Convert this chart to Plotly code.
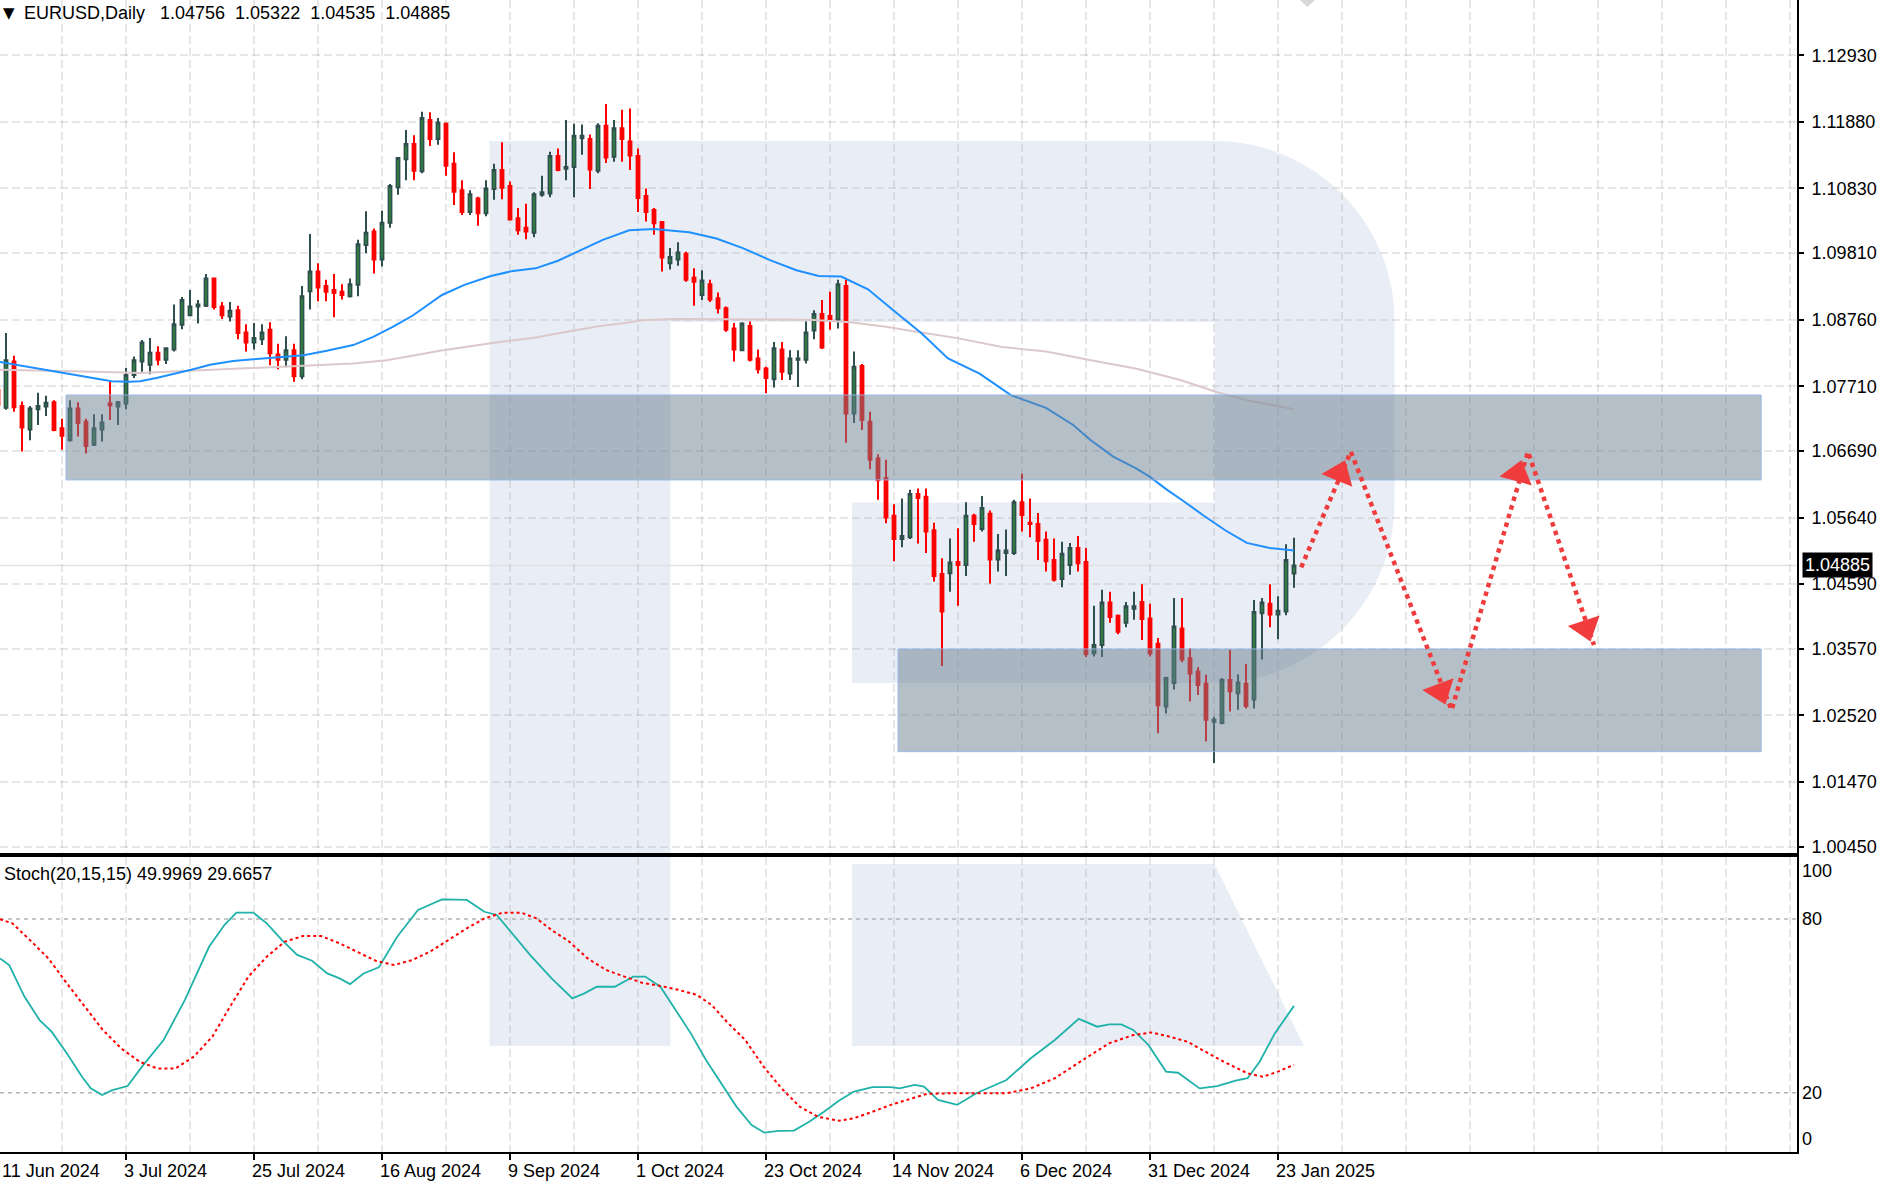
import plotly.graph_objects as go

# ---------------- data ----------------
symbol = "EURUSD"
timeframe = "Daily"

opens = [1.0765, 1.0737, 1.0810, 1.0740, 1.0703, 1.0735, 1.0739, 1.0746, 1.0705, 1.0686,
         1.0736, 1.0715, 1.0679, 1.0703, 1.0744, 1.0739, 1.0744, 1.0789, 1.0810, 1.0805,
         1.0824, 1.0813, 1.0829, 1.0868, 1.0883, 1.0897, 1.0898, 1.0941, 1.0897, 1.0881,
         1.0891, 1.0856, 1.0840, 1.0845, 1.0860, 1.0821, 1.0813, 1.0828, 1.0787, 1.0921,
         1.0952, 1.0929, 1.0923, 1.0920, 1.0913, 1.0931, 1.0994, 1.1015, 1.0971, 1.1029,
         1.1085, 1.1129, 1.1153, 1.1110, 1.1191, 1.1161, 1.1185, 1.1122, 1.1080, 1.1046,
         1.1067, 1.1044, 1.1082, 1.1112, 1.1087, 1.1036, 1.1021, 1.1013, 1.1073, 1.1075,
         1.1134, 1.1114, 1.1117, 1.1162, 1.1161, 1.1111, 1.1182, 1.1133, 1.1178, 1.1157,
         1.1134, 1.1071, 1.1049, 1.1030, 1.0965, 1.0971, 1.0980, 1.0942, 1.0915, 1.0932,
         1.0910, 1.0894, 1.0862, 1.0828, 1.0866, 1.0815, 1.0799, 1.0782, 1.0829, 1.0791,
         1.0813, 1.0813, 1.0859, 1.0885, 1.0882, 1.0876, 1.0929, 1.0728, 1.0803, 1.0715,
         1.0657, 1.0626, 1.0567, 1.0530, 1.0533, 1.0601, 1.0597, 1.0544, 1.0475, 1.0476,
         1.0494, 1.0489, 1.0567, 1.0546, 1.0570, 1.0498, 1.0508, 1.0508, 1.0588, 1.0556,
         1.0554, 1.0529, 1.0497, 1.0467, 1.0489, 1.0516, 1.0494, 1.0350, 1.0363, 1.0430,
         1.0409, 1.0398, 1.0420, 1.0431, 1.0405, 1.0365, 1.0266, 1.0303, 1.0389, 1.0342,
         1.0321, 1.0302, 1.0242, 1.0240, 1.0308, 1.0287, 1.0302, 1.0277, 1.0413, 1.0428,
         1.0411, 1.0416, 1.04756]
highs = [1.0767, 1.0855, 1.0819, 1.0747, 1.0740, 1.0761, 1.0756, 1.0749, 1.0720, 1.0749,
         1.0746, 1.0720, 1.0727, 1.0727, 1.0778, 1.0748, 1.0800, 1.0818, 1.0844, 1.0847,
         1.0834, 1.0831, 1.0900, 1.0912, 1.0923, 1.0907, 1.0948, 1.0941, 1.0904, 1.0904,
         1.0898, 1.0869, 1.0871, 1.0869, 1.0872, 1.0838, 1.0850, 1.0838, 1.0929, 1.1011,
         1.0965, 1.0939, 1.0948, 1.0932, 1.0941, 1.1002, 1.1047, 1.1020, 1.1048, 1.1090,
         1.1132, 1.1175, 1.1167, 1.1204, 1.1203, 1.1194, 1.1187, 1.1140, 1.1096, 1.1080,
         1.1070, 1.1096, 1.1122, 1.1156, 1.1094, 1.1052, 1.1059, 1.1077, 1.1103, 1.1141,
         1.1146, 1.1191, 1.1185, 1.1184, 1.1168, 1.1186, 1.1216, 1.1191, 1.1207, 1.1209,
         1.1146, 1.1083, 1.1052, 1.1031, 1.0989, 1.0998, 1.0983, 1.0957, 1.0954, 1.0939,
         1.0919, 1.0897, 1.0871, 1.0872, 1.0873, 1.0829, 1.0802, 1.0841, 1.0841, 1.0828,
         1.0828, 1.0873, 1.0891, 1.0907, 1.0920, 1.0939, 1.0939, 1.0826, 1.0806, 1.0731,
         1.0664, 1.0655, 1.0585, 1.0594, 1.0608, 1.0610, 1.0610, 1.0556, 1.0500, 1.0531,
         1.0547, 1.0588, 1.0570, 1.0598, 1.0575, 1.0538, 1.0545, 1.0592, 1.0633, 1.0594,
         1.0571, 1.0542, 1.0531, 1.0526, 1.0524, 1.0535, 1.0516, 1.0425, 1.0450, 1.0447,
         1.0411, 1.0431, 1.0447, 1.0459, 1.0428, 1.0374, 1.0313, 1.0437, 1.0437, 1.0358,
         1.0328, 1.0316, 1.0250, 1.0311, 1.0355, 1.0317, 1.0333, 1.0434, 1.0437, 1.0459,
         1.0440, 1.0522, 1.05322]
lows = [1.0719, 1.0734, 1.0731, 1.0668, 1.0686, 1.0710, 1.0724, 1.0700, 1.0671, 1.0684,
        1.0692, 1.0665, 1.0677, 1.0684, 1.0718, 1.0710, 1.0735, 1.0784, 1.0794, 1.0790,
        1.0804, 1.0806, 1.0826, 1.0861, 1.0883, 1.0870, 1.0896, 1.0892, 1.0877, 1.0873,
        1.0845, 1.0826, 1.0829, 1.0836, 1.0804, 1.0798, 1.0801, 1.0778, 1.0782, 1.0892,
        1.0905, 1.0905, 1.0880, 1.0908, 1.0911, 1.0913, 1.0981, 1.0949, 1.0960, 1.1021,
        1.1073, 1.1096, 1.1096, 1.1107, 1.1150, 1.1152, 1.1103, 1.1057, 1.1041, 1.1041,
        1.1024, 1.1039, 1.1065, 1.1066, 1.1033, 1.1010, 1.1003, 1.1006, 1.1070, 1.1069,
        1.1110, 1.1096, 1.1069, 1.1136, 1.1082, 1.1107, 1.1123, 1.1125, 1.1125, 1.1112,
        1.1046, 1.1031, 1.1010, 1.0952, 1.0955, 1.0961, 1.0936, 1.0898, 1.0907, 1.0904,
        1.0886, 1.0857, 1.0810, 1.0827, 1.0810, 1.0791, 1.0760, 1.0769, 1.0781, 1.0781,
        1.0770, 1.0807, 1.0845, 1.0830, 1.0860, 1.0862, 1.0682, 1.0713, 1.0702, 1.0640,
        1.0592, 1.0555, 1.0495, 1.0517, 1.0530, 1.0523, 1.0508, 1.0463, 1.0330, 1.0447,
        1.0425, 1.0472, 1.0526, 1.0542, 1.0460, 1.0479, 1.0472, 1.0505, 1.0542, 1.0533,
        1.0497, 1.0479, 1.0463, 1.0454, 1.0474, 1.0479, 1.0344, 1.0345, 1.0344, 1.0398,
        1.0380, 1.0391, 1.0403, 1.0371, 1.0345, 1.0224, 1.0255, 1.0293, 1.0336, 1.0274,
        1.0284, 1.0211, 1.0177, 1.0238, 1.0258, 1.0261, 1.0263, 1.0263, 1.0340, 1.0391,
        1.0372, 1.0410, 1.04535]
closes = [1.0742, 1.0812, 1.0738, 1.0706, 1.0736, 1.0740, 1.0745, 1.0702, 1.0693, 1.0736,
          1.0713, 1.0677, 1.0705, 1.0714, 1.0741, 1.0746, 1.0789, 1.0812, 1.0840, 1.0824,
          1.0813, 1.0831, 1.0869, 1.0907, 1.0897, 1.0900, 1.0941, 1.0896, 1.0883, 1.0890,
          1.0855, 1.0840, 1.0847, 1.0856, 1.0823, 1.0813, 1.0828, 1.0787, 1.0913, 1.0952,
          1.0927, 1.0920, 1.0918, 1.0915, 1.0932, 1.0995, 1.1013, 1.0971, 1.1029, 1.1087,
          1.1131, 1.1153, 1.1111, 1.1194, 1.1161, 1.1187, 1.1119, 1.1078, 1.1046, 1.1074,
          1.1044, 1.1083, 1.1112, 1.1084, 1.1034, 1.1017, 1.1015, 1.1074, 1.1077, 1.1134,
          1.1112, 1.1117, 1.1166, 1.1166, 1.1113, 1.1182, 1.1132, 1.1178, 1.1161, 1.1135,
          1.1068, 1.1046, 1.1028, 1.0974, 1.0975, 1.0982, 1.0939, 1.0936, 1.0938, 1.0908,
          1.0894, 1.0860, 1.0829, 1.0870, 1.0813, 1.0798, 1.0784, 1.0831, 1.0794, 1.0815,
          1.0815, 1.0856, 1.0885, 1.0832, 1.0877, 1.0932, 1.0728, 1.0802, 1.0718, 1.0655,
          1.0623, 1.0564, 1.0530, 1.0535, 1.0601, 1.0595, 1.0542, 1.0472, 1.0416, 1.0493,
          1.0489, 1.0567, 1.0554, 1.0579, 1.0498, 1.0512, 1.0512, 1.0588, 1.0568, 1.0554,
          1.0527, 1.0495, 1.0466, 1.0507, 1.0516, 1.0492, 1.0349, 1.0363, 1.0430, 1.0407,
          1.0384, 1.0424, 1.0424, 1.0404, 1.0350, 1.0268, 1.0311, 1.0392, 1.0340, 1.0318,
          1.0300, 1.0245, 1.0245, 1.0308, 1.0290, 1.0304, 1.0267, 1.0415, 1.0430, 1.0411,
          1.0417, 1.0497, 1.04885]

# moving averages (bar index, price)
ma_fast_idx = [0, 3.6, 5.8, 8.6, 11.4, 14.2, 16.4, 17.75, 19.8, 21.5, 24.4, 26.5, 29.4, 32.3,
               35.25, 38.2, 41.1, 44.4, 46.9, 49.4, 51.9, 54.0, 55.5, 58.3, 61.6, 64.4, 67.2,
               70.0, 72.8, 75.6, 78.9, 82.0, 86.4, 89.8, 93.1, 96.5, 99.8, 102.6, 105.4,
               108.75, 112.1, 115.4, 118.75, 122.7, 126.6, 131.0, 134.4, 136.6, 139.4, 142.2,
               143.9, 146.1, 148.3, 150.6, 153.4, 156.1, 158.95, 162]
ma_fast = [1.0810, 1.0802, 1.0797, 1.0791, 1.0785, 1.0779, 1.0778, 1.0779, 1.0784, 1.0789,
           1.0798, 1.0805, 1.0811, 1.0814, 1.0817, 1.0820, 1.0827, 1.0836, 1.0849, 1.0865,
           1.0883, 1.0902, 1.0915, 1.0931, 1.0945, 1.0953, 1.0957, 1.0969, 1.0986, 1.1002,
           1.1017, 1.1019, 1.1014, 1.1004, 1.0989, 1.0970, 1.0954, 1.0945, 1.0944, 1.0924,
           1.0889, 1.0855, 1.0815, 1.0791, 1.0757, 1.0737, 1.0710, 1.0686, 1.0660, 1.0642,
           1.0629, 1.0608, 1.0589, 1.0568, 1.0544, 1.0524, 1.0516, 1.0512]
ma_slow_idx = [0, 6, 12, 17.75, 27.3, 36, 40.25, 44.4, 48.6, 55.25, 61.6, 67.2, 70.25, 72.3,
               75.25, 78.4, 80.5, 84.4, 95.3, 101.5, 106.5, 111, 115.4, 119.9, 125.5, 131,
               136.6, 142.2, 147.8, 152.3, 156.1, 162]
ma_slow = [1.0797, 1.0796, 1.0794, 1.0792, 1.0797, 1.0802, 1.0804, 1.0807, 1.0812, 1.0827,
           1.0839, 1.0848, 1.0855, 1.0860, 1.0866, 1.0871, 1.0875, 1.0877, 1.0877, 1.0876,
           1.0872, 1.0865, 1.0856, 1.0847, 1.0833, 1.0826, 1.0812, 1.0799, 1.0781, 1.0762,
           1.0749, 1.0735]

# stochastic (bar index, value)
stoch_params = "20,15,15"
stoch_k_idx = [0.25, 1.4, 3.3, 5.2, 6.7, 8.6, 10.5, 11.6, 13.0, 14.3, 16.2, 18.0, 20.7, 23.35,
               26.4, 28.3, 29.8, 31.9, 33.6, 35.5, 37.4, 39.25, 41.15, 42.7, 44.0, 45.7, 47.6,
               49.9, 52.5, 55.5, 58.6, 60.8, 62.35, 64.25, 66.5, 69.2, 71.8, 73.3, 74.85, 77.1,
               79.4, 80.9, 82.8, 84.7, 86.6, 88.5, 90.4, 92.3, 94.2, 95.8, 97.6, 99.5, 101.4,
               103.25, 105.1, 107.0, 109.3, 111.6, 112.7, 114.6, 115.75, 117.5, 119.9, 122.3,
               126.05, 129.1, 132.1, 135.1, 137.4, 138.9, 140.4, 141.9, 143.8, 146.0, 147.5,
               150.2, 152.4, 154.7, 156.2, 157.7, 159.6, 162]
stoch_k = [66.4, 64.1, 53.2, 45.1, 41.1, 33.6, 25.5, 21.5, 19.2, 20.9, 22.3, 29.0, 38.2, 52.0,
           70.5, 77.9, 82.2, 82.2, 78.5, 72.7, 67.6, 65.6, 61.2, 59.5, 57.5, 61.2, 63.3, 73.9,
           83.1, 86.8, 86.6, 82.5, 81.4, 75.05, 67.6, 59.5, 52.6, 54.3, 56.6, 56.6, 60.1, 60.1,
           56.6, 48.6, 40.5, 31.3, 23.2, 15.2, 8.8, 6.2, 6.8, 6.9, 10.0, 13.4, 17.2, 20.4, 21.9,
           21.9, 21.5, 22.7, 22.1, 17.5, 15.8, 19.8, 24.4, 31.9, 38.2, 45.5, 42.8, 43.6, 43.6,
           41.7, 36.5, 27.3, 26.9, 21.5, 22.3, 24.2, 25.0, 30.7, 40.5, 49.9969]
stoch_d_idx = [0.25, 1.8, 4.0, 6.3, 8.6, 10.85, 13.1, 15.4, 17.7, 19.9, 22.2, 24.5, 26.8, 29.0,
               31.3, 33.6, 35.85, 38.1, 40.4, 42.7, 44.9, 47.2, 49.5, 51.75, 54.0, 56.3, 58.6,
               60.8, 63.1, 65.4, 67.3, 69.2, 71.4, 73.7, 76.0, 78.3, 80.5, 82.8, 85.1, 87.35,
               89.2, 91.1, 93.4, 95.7, 97.95, 100.2, 102.5, 105.1, 107.0, 109.3, 111.6, 113.85,
               116.1, 119.0, 122.0, 126.05, 129.1, 132.1, 135.1, 138.9, 141.9, 144.2, 146.4,
               148.7, 150.9, 153.2, 156.2, 158.1, 160.0, 162]
stoch_d = [79.9, 78.5, 72.7, 66.4, 57.8, 49.7, 41.7, 35.3, 30.7, 28.4, 28.4, 32.5, 39.4, 49.7,
           60.1, 67.0, 72.2, 74.1, 74.1, 71.6, 68.7, 65.6, 64.1, 65.8, 68.7, 72.7, 76.8, 80.2,
           82.2, 82.2, 80.2, 76.2, 72.2, 66.4, 62.4, 60.1, 58.0, 56.9, 55.5, 53.8, 50.3, 44.5,
           38.2, 29.0, 21.5, 15.2, 11.7, 10.3, 11.2, 13.4, 15.8, 17.7, 19.6, 19.8, 19.8, 19.8,
           21.5, 25.0, 30.4, 37.1, 39.9, 40.8, 39.4, 37.6, 34.2, 30.7, 26.7, 25.5, 27.3, 29.6657]
stoch_levels = [80, 20]
stoch_scale_labels = [100, 80, 20, 0]

# axes labels
price_ticks = [1.00450, 1.01470, 1.02520, 1.03570, 1.04590, 1.05640, 1.06690,
               1.07710, 1.08760, 1.09810, 1.10830, 1.11880, 1.12930]
date_tick_idx = [0, 16, 32, 48, 64, 80, 96, 112, 128, 144, 160]
date_labels = ['11 Jun 2024', '3 Jul 2024', '25 Jul 2024', '16 Aug 2024', '9 Sep 2024',
               '1 Oct 2024', '23 Oct 2024', '14 Nov 2024', '6 Dec 2024', '31 Dec 2024',
               '23 Jan 2025']

# analyst drawings: zones and forecast path
zone_idx0 = [8.5, 112.5]
zone_idx1 = [220.4, 220.4]
zone_lo = [1.06233, 1.01948]
zone_hi = [1.07573, 1.03568]
forecast_idx = [162.9, 169.1, 181.7, 191.25, 199.5]
forecast_price = [1.04856, 1.06679, 1.02606, 1.06679, 1.03631]
head_idx = [167.7, 180.3, 189.95, 198.5]
head_price = [1.06332, 1.02905, 1.06327, 1.03904]

# ---------------- layout geometry ----------------
W, H = 1886, 1187
ML, MR, MT, MB = 0, 89, 0, 35
PW, PH = W - ML - MR, H - MT - MB
BAR_PX = 8.0
x_range = [0.25, 0.25 + PW / BAR_PX]
main_dom = [(PH - 853) / PH, 1.0]
stoch_dom = [0.0, (PH - 857) / PH]
price_range = [1.00350, 1.13802]
stoch_range = [-0.48, 101.42]

FONT = "Liberation Sans, Arial, sans-serif"
GRID = "rgba(170,170,170,0.28)"
GRID_DASH = "8px,4px"
BULL_FILL = "#2dbb2d"
BULL_LINE = "#2f4f4f"
BEAR = "#ff0000"
WM = "#e9edf5"
ARROW = "#f03c3c"
ZONE_FILL = "rgba(105,128,143,0.5)"
ZONE_EDGE = "rgba(150,185,235,0.9)"

x = list(range(len(opens)))
grid_idx = list(range(0, int(x_range[1]) + 1, 8))
minor_idx = [g for g in grid_idx if g not in date_tick_idx]

fig = go.Figure()

fig.add_trace(go.Candlestick(
    x=x, open=opens, high=highs, low=lows, close=closes,
    increasing=dict(line=dict(color=BULL_LINE, width=2), fillcolor=BULL_FILL),
    decreasing=dict(line=dict(color=BEAR, width=2), fillcolor=BEAR),
    whiskerwidth=0, hoverinfo="skip", showlegend=False, xaxis="x", yaxis="y"))

fig.add_trace(go.Scatter(x=ma_slow_idx, y=ma_slow, mode="lines",
                         line=dict(color="#dcc8cb", width=2), hoverinfo="skip",
                         showlegend=False, xaxis="x", yaxis="y"))
fig.add_trace(go.Scatter(x=ma_fast_idx, y=ma_fast, mode="lines",
                         line=dict(color="#1e90ff", width=2), hoverinfo="skip",
                         showlegend=False, xaxis="x", yaxis="y"))

# translucent zones drawn over candles and averages, under the forecast arrows
for i in range(len(zone_lo)):
    fig.add_trace(go.Scatter(
        x=[zone_idx0[i], zone_idx1[i], zone_idx1[i], zone_idx0[i], zone_idx0[i]],
        y=[zone_lo[i], zone_lo[i], zone_hi[i], zone_hi[i], zone_lo[i]],
        mode="lines", fill="toself", fillcolor=ZONE_FILL,
        line=dict(color=ZONE_EDGE, width=1), hoverinfo="skip", showlegend=False,
        xaxis="x", yaxis="y"))

# forecast dotted path and arrowheads
fig.add_trace(go.Scatter(x=forecast_idx, y=forecast_price, mode="lines",
                         line=dict(color=ARROW, width=4.5, dash="dot"), hoverinfo="skip",
                         showlegend=False, xaxis="x", yaxis="y"))
hx, hy, hs = [], [], []
for i in range(len(head_idx)):
    hx += [forecast_idx[i], head_idx[i]]
    hy += [forecast_price[i], head_price[i]]
    hs += [0, 29]
fig.add_trace(go.Scatter(x=hx, y=hy, mode="markers",
                         marker=dict(symbol="triangle-up", size=hs, color=ARROW, opacity=1,
                                     angleref="previous", line=dict(width=0)),
                         hoverinfo="skip", showlegend=False, xaxis="x", yaxis="y"))

# stochastic
fig.add_trace(go.Scatter(x=stoch_k_idx, y=stoch_k, mode="lines",
                         line=dict(color="#20b2aa", width=1.8), hoverinfo="skip",
                         showlegend=False, xaxis="x2", yaxis="y2"))
fig.add_trace(go.Scatter(x=stoch_d_idx, y=stoch_d, mode="lines",
                         line=dict(color="#ff0000", width=2, dash="dot"), hoverinfo="skip",
                         showlegend=False, xaxis="x2", yaxis="y2"))


def P(xp, yp):
    return f"{xp / PW:.5f},{(PH - yp) / PH:.5f}"


k = 0.5523
bowl = (f"M {P(489.5, 141)} L {P(1214.5, 141)} "
        f"C {P(1214.5 + k * 180, 141)} {P(1394.5, 321 - k * 180)} {P(1394.5, 321)} "
        f"L {P(1394.5, 502.5)} "
        f"C {P(1394.5, 502.5 + k * 180.5)} {P(1214.5 + k * 180, 683)} {P(1214.5, 683)} "
        f"L {P(852, 683)} L {P(852, 502.5)} L {P(1214.5, 502.5)} L {P(1214.5, 322)} "
        f"L {P(670.5, 322)} L {P(670.5, 1046)} L {P(489.5, 1046)} Z")
leg = f"M {P(852, 864)} L {P(1214.5, 864)} L {P(1304, 1046)} L {P(852, 1046)} Z"

shapes = [
    dict(type="path", path=bowl, xref="paper", yref="paper", fillcolor=WM,
         line=dict(width=0), layer="below"),
    dict(type="path", path=leg, xref="paper", yref="paper", fillcolor=WM,
         line=dict(width=0), layer="below"),
    dict(type="line", xref="paper", yref="y", x0=0, x1=1, y0=closes[-1], y1=closes[-1],
         line=dict(color="#e2e2e2", width=1.5), layer="below"),
    dict(type="path", xref="paper", yref="paper",
         path=f"M {P(1300, 0)} L {P(1315, 0)} L {P(1307.5, 7)} Z",
         fillcolor="#d8d8d8", line=dict(width=0), layer="above"),
]
for lv in stoch_levels:
    shapes.append(dict(type="line", xref="paper", yref="y2", x0=0, x1=1, y0=lv, y1=lv,
                       line=dict(color="#b4b4b4", width=1.5, dash="4px,4px"),
                       layer="below"))

annotations = []
nb = "\u00a0"
title_txt = (f"{symbol},{timeframe}{nb * 3}" +
             (nb * 2).join(f"{v:.5f}" for v in (opens[-1], highs[-1], lows[-1], closes[-1])))
annotations.append(dict(text="\u25bc", xref="paper", yref="paper", x=0, y=1,
                        xanchor="left", yanchor="middle", xshift=1, yshift=-13,
                        showarrow=False, font=dict(family="DejaVu Sans", size=15,
                                                   color="black")))
annotations.append(dict(text=title_txt, xref="paper", yref="paper", x=0, y=1,
                        xanchor="left", yanchor="middle", xshift=22, yshift=-13,
                        showarrow=False, font=dict(family=FONT, size=18, color="black")))
annotations.append(dict(text=f"Stoch({stoch_params}) {stoch_k[-1]:.4f} {stoch_d[-1]:.4f}",
                        xref="paper", yref="paper", x=0, y=stoch_dom[1],
                        xanchor="left", yanchor="middle", xshift=2, yshift=-17,
                        showarrow=False, font=dict(family=FONT, size=18, color="black")))
for ti, lab in zip(date_tick_idx, date_labels):
    clamped = ti < x_range[0]
    annotations.append(dict(text=lab, xref="x2", yref="paper", x=max(ti, x_range[0]), y=0,
                            xanchor="left", yanchor="middle", xshift=0 if clamped else -4,
                            yshift=-19, showarrow=False,
                            font=dict(family=FONT, size=18, color="black")))
lvl_shift = {100: -10, 80: 0, 20: 0, 0: 12}
for lv in stoch_scale_labels:
    annotations.append(dict(text=str(lv), xref="paper", yref="y2", x=1, y=lv,
                            xanchor="left", yanchor="middle", xshift=3, yshift=lvl_shift[lv],
                            showarrow=False, font=dict(family=FONT, size=18, color="black")))
annotations.append(dict(text=f"{closes[-1]:.5f}", xref="paper", yref="y", x=1, y=closes[-1],
                        xanchor="left", yanchor="middle", xshift=5, showarrow=False,
                        bgcolor="black", borderpad=2,
                        font=dict(family=FONT, size=18, color="white")))

fig.update_layout(
    width=W, height=H, margin=dict(l=ML, r=MR, t=MT, b=MB),
    paper_bgcolor="white", plot_bgcolor="rgba(0,0,0,0)", showlegend=False,
    boxgap=0.5, font=dict(family=FONT, size=18, color="black"),
    shapes=shapes, annotations=annotations, hovermode=False,
    xaxis=dict(domain=[0, 1], range=x_range, anchor="y", tickmode="array", tickvals=grid_idx,
               showticklabels=False, ticks="", showgrid=True, gridcolor=GRID, gridwidth=2,
               griddash=GRID_DASH, zeroline=False, showline=True, linecolor="black",
               linewidth=2, rangeslider=dict(visible=False), fixedrange=True),
    yaxis=dict(domain=main_dom, range=price_range, anchor="x", side="right",
               tickmode="array", tickvals=price_ticks,
               ticktext=[f"{v:.5f}" for v in price_ticks], ticks="outside", ticklen=5,
               tickwidth=1.5, tickcolor="black", ticklabelstandoff=4,
               tickfont=dict(family=FONT, size=18, color="black"),
               showgrid=True, gridcolor=GRID, gridwidth=2, griddash=GRID_DASH,
               zeroline=False, showline=True, linecolor="black", linewidth=2,
               fixedrange=True),
    xaxis2=dict(domain=[0, 1], range=x_range, anchor="y2", tickmode="array",
                tickvals=date_tick_idx, ticks="outside", ticklen=6, tickwidth=1.5,
                tickcolor="black", showticklabels=False, showgrid=True, gridcolor=GRID,
                gridwidth=2, griddash=GRID_DASH,
                minor=dict(tickmode="array", tickvals=minor_idx, showgrid=True,
                           gridcolor=GRID, gridwidth=2, griddash=GRID_DASH, ticks=""),
                zeroline=False, showline=True, mirror=True, linecolor="black",
                linewidth=2, fixedrange=True),
    yaxis2=dict(domain=stoch_dom, range=stoch_range, anchor="x2", side="right",
                showticklabels=False, ticks="", showgrid=False, zeroline=False,
                showline=True, linecolor="black", linewidth=2, fixedrange=True),
)

fig.write_html("out.html", config={"displayModeBar": False},
               post_script="document.body.style.margin='0';document.body.style.overflow='hidden';")
